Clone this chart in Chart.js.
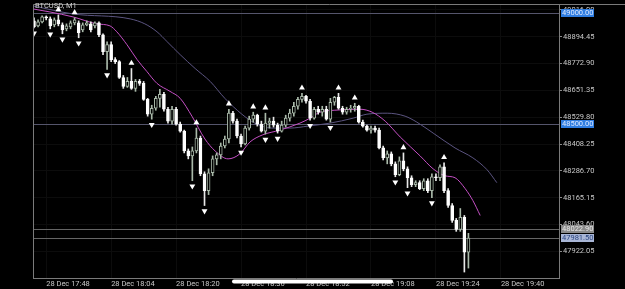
<!DOCTYPE html>
<html>
<head>
<meta charset="utf-8">
<script src="https://cdn.jsdelivr.net/npm/chart.js@4.4.1/dist/chart.umd.min.js"></script>
<style>
  html, body { margin: 0; padding: 0; background: #000; }
  canvas { display: block; }
</style>
</head>
<body>
<canvas id="chart" width="625" height="289"></canvas>
<script>
// BTCUSD M1, one bar per minute, bar 0 = 17:45
const opens = [
  48966.5, 48944, 48962, 48984.5, 48975.5, 48948.5, 48971, 48948.5, 48930.5, 48939.5,
  48957.5, 48957.5, 48926, 48948.5, 48953, 48944, 48957.5, 48903.5, 48827, 48858.5,
  48791, 48782, 48710, 48669.5, 48692, 48660.5, 48692, 48683, 48611, 48543.5,
  48570.5, 48615.5, 48633.5, 48566, 48512, 48566, 48498.5, 48467, 48377, 48354.5,
  48377, 48435.5, 48273.5, 48197, 48278, 48341, 48359, 48399.5, 48431, 48548,
  48512, 48444.5, 48408.5, 48480.5, 48521, 48539, 48498.5, 48467, 48503, 48512,
  48494, 48467, 48494, 48525.5, 48548, 48579.5, 48611, 48624.5, 48602, 48525.5,
  48566, 48552.5, 48566, 48521, 48597.5, 48620, 48570.5, 48552.5, 48566, 48570.5,
  48579.5, 48507.5, 48489.5, 48471.5, 48480.5, 48471.5, 48390.5, 48345.5, 48363.5, 48318.5,
  48269, 48332, 48296, 48255.5, 48224, 48233, 48206, 48242, 48197, 48260,
  48255.5, 48305, 48197, 48129.5, 48062, 48021.5, 48075.5, 47918
];
const highs = [
  48980, 48971, 48989, 48989, 48984.5, 48980, 48993.5, 48957.5, 48953, 48966.5,
  48980, 48966.5, 48957.5, 48966.5, 48962, 48962, 48962, 48908, 48872, 48872,
  48800, 48786.5, 48719, 48710, 48750.5, 48701, 48701, 48692, 48615.5, 48584,
  48624.5, 48656, 48642.5, 48575, 48579.5, 48575, 48507.5, 48471.5, 48386, 48395,
  48480.5, 48444.5, 48282.5, 48296, 48354.5, 48368, 48413, 48444.5, 48566, 48557,
  48521, 48453.5, 48489.5, 48534.5, 48552.5, 48543.5, 48512, 48548, 48525.5, 48530,
  48503, 48512, 48539, 48566, 48597.5, 48620, 48638, 48629, 48611, 48575,
  48579.5, 48579.5, 48579.5, 48615.5, 48624.5, 48638, 48579.5, 48575, 48584, 48593,
  48584, 48516.5, 48494, 48489.5, 48489.5, 48480.5, 48399.5, 48377, 48372.5, 48327.5,
  48350, 48368, 48305, 48264.5, 48242, 48242, 48251, 48251, 48273.5, 48273.5,
  48314, 48323, 48206, 48138.5, 48071, 48116, 48084.5, 48003.5
];
const lows = [
  48935, 48939.5, 48957.5, 48971, 48930.5, 48939.5, 48944, 48908, 48921.5, 48930.5,
  48948.5, 48890, 48917, 48944, 48917, 48935, 48894.5, 48813.5, 48746, 48782,
  48773, 48705.5, 48660.5, 48665, 48656, 48647, 48674, 48606.5, 48534.5, 48521,
  48561.5, 48575, 48557, 48503, 48498.5, 48494, 48462.5, 48368, 48341, 48242,
  48368, 48264.5, 48129.5, 48179, 48264.5, 48314, 48341, 48390.5, 48413, 48503,
  48435.5, 48395, 48404, 48471.5, 48507.5, 48489.5, 48462.5, 48453.5, 48480.5, 48485,
  48458, 48462.5, 48485, 48512, 48534.5, 48566, 48597.5, 48593, 48516.5, 48521,
  48543.5, 48534.5, 48516.5, 48507.5, 48584, 48566, 48543.5, 48543.5, 48552.5, 48557,
  48503, 48485, 48467, 48458, 48462.5, 48386, 48336.5, 48318.5, 48309.5, 48260,
  48264.5, 48287, 48210.5, 48215, 48215, 48201.5, 48197, 48188, 48165.5, 48242,
  48242, 48188, 48120.5, 48053, 48012.5, 48012.5, 47828, 47846
];
const closes = [
  48939.5, 48962, 48984.5, 48980, 48944, 48971, 48953, 48926, 48944, 48957.5,
  48971, 48912.5, 48948.5, 48957.5, 48926, 48957.5, 48903.5, 48827, 48858.5, 48791,
  48782, 48710, 48669.5, 48692, 48660.5, 48692, 48683, 48611, 48543.5, 48570.5,
  48615.5, 48633.5, 48566, 48512, 48566, 48498.5, 48467, 48377, 48354.5, 48377,
  48435.5, 48273.5, 48197, 48278, 48341, 48359, 48399.5, 48431, 48548, 48512,
  48444.5, 48408.5, 48480.5, 48521, 48539, 48498.5, 48467, 48503, 48512, 48494,
  48467, 48494, 48525.5, 48548, 48579.5, 48611, 48624.5, 48602, 48525.5, 48566,
  48552.5, 48566, 48521, 48597.5, 48620, 48570.5, 48552.5, 48566, 48570.5, 48579.5,
  48507.5, 48489.5, 48471.5, 48480.5, 48471.5, 48390.5, 48345.5, 48363.5, 48318.5, 48269,
  48332, 48296, 48255.5, 48224, 48233, 48206, 48242, 48197, 48260, 48255.5,
  48305, 48197, 48129.5, 48062, 48021.5, 48075.5, 47918, 47981.5
];

// bars that carry a fractal arrow
const fractalUpBars = [6, 10, 24, 40, 48, 54, 57, 66, 75, 79, 91, 101];
const fractalDownBars = [0, 4, 7, 11, 18, 29, 39, 42, 51, 57, 60, 68, 73, 89, 92, 98];

// moving averages (bar position, price)
const fastMaBars = [-0.2, 3.9, 9.6, 15.5, 18.7, 20.4, 22.9, 25.4, 27.8, 30.3, 33.5, 36, 38.9, 42.1, 44.6, 47.8, 50.7, 53.2, 56.2, 60.6, 65.5, 68, 70.4, 74.1, 80.3, 83.3, 86.5, 90.2, 95.1, 98.3, 101.2, 103.7, 106.2, 108.1, 109.9];
const fastMaValues = [49020.5, 49007, 48984.5, 48953, 48944, 48917, 48858.5, 48791, 48737, 48683, 48647, 48615.5, 48534.5, 48431, 48377, 48341, 48363.5, 48417.5, 48449, 48471.5, 48503, 48525.5, 48552.5, 48561.5, 48566, 48552.5, 48512, 48440, 48354.5, 48296, 48264.5, 48255.5, 48206, 48152, 48084.5];
const slowMaBars = [-0.2, 9.6, 23.7, 27.3, 30.3, 32.8, 36, 39.7, 43.4, 47, 51.2, 54.4, 58.6, 63, 67.5, 72.9, 78.6, 82, 87, 91.4, 94.3, 98.3, 103.7, 108.1, 111.6, 114];
const slowMaValues = [49034, 48998, 48975.5, 48953, 48917, 48872, 48813.5, 48750.5, 48692, 48615.5, 48543.5, 48503, 48480.5, 48480.5, 48489.5, 48503, 48525.5, 48543.5, 48548, 48534.5, 48507.5, 48458, 48390.5, 48345.5, 48291.5, 48233];

const priceTicks = [49016.00, 48894.45, 48772.90, 48651.35, 48529.80, 48408.25, 48286.70, 48165.15, 48043.60, 47922.05];
const timeTickBars = [3, 19, 35, 51, 67, 83, 99, 115];
const timeTickLabels = ['28 Dec 17:48', '28 Dec 18:04', '28 Dec 18:20', '28 Dec 18:36', '28 Dec 18:52', '28 Dec 19:08', '28 Dec 19:24', '28 Dec 19:40'];

const levelLines = [49000, 48500];
const askPrice = 48022.90;
const bidPrice = 47981.50;

const yMin = 47801, yMax = 49043;
const xMin = -0.246, xMax = 129.31;

const bullColor = '#a9b9a9';
const bearColor = '#ffffff';
const arrowGap = 5.5 * (yMax - yMin) / 276;

const bars = opens.map((_, i) => i);
const isUp = i => closes[i] >= opens[i];

const fontFamily = 'Roboto, "Liberation Sans", sans-serif';
Chart.defaults.font.family = fontFamily;

const decorations = {
  id: 'decorations',
  beforeDraw(chart) {
    const ctx = chart.ctx;
    ctx.save();
    ctx.fillStyle = '#000';
    ctx.fillRect(0, 0, chart.width, chart.height);
    ctx.restore();
  },
  beforeDatasetsDraw(chart) {
    const { ctx, chartArea: a, scales: { y } } = chart;
    ctx.save();
    ctx.lineWidth = 1;
    ctx.strokeStyle = '#55556c';
    levelLines.forEach(v => {
      const py = Math.round(y.getPixelForValue(v)) + 0.5;
      ctx.beginPath(); ctx.moveTo(a.left, py); ctx.lineTo(a.right, py); ctx.stroke();
    });
    ctx.strokeStyle = '#656565';
    [askPrice, bidPrice].forEach(v => {
      const py = Math.round(y.getPixelForValue(v)) + 0.5;
      ctx.beginPath(); ctx.moveTo(a.left, py); ctx.lineTo(a.right, py); ctx.stroke();
    });
    ctx.restore();
  },
  afterDraw(chart) {
    const { ctx, chartArea: a, scales: { y } } = chart;
    ctx.save();
    // frame
    ctx.strokeStyle = '#7a7a7a';
    ctx.lineWidth = 1;
    ctx.beginPath();
    ctx.moveTo(a.left + 0.5, a.bottom); ctx.lineTo(a.left + 0.5, a.top + 0.5); ctx.lineTo(chart.width, a.top + 0.5);
    ctx.stroke();

    ctx.font = '7.5px ' + fontFamily;
    ctx.textBaseline = 'middle';
    ctx.textAlign = 'left';
    const tag = (v, bg, fg) => {
      const py = Math.round(y.getPixelForValue(v));
      ctx.fillStyle = bg;
      ctx.fillRect(a.right + 2, py - 4, 33, 8);
      ctx.fillStyle = fg;
      ctx.fillText(v.toFixed(2), a.right + 3, py + 0.5);
    };
    levelLines.forEach(v => tag(v, '#2f7de1', '#dce8ff'));
    tag(askPrice, '#8a8a8a', '#e6e6e6');
    tag(bidPrice, '#a9b6d6', '#2c4680');

    ctx.fillStyle = '#d0d0d0';
    ctx.fillText('BTCUSD, M1', a.left + 2, 6);

    // phone home indicator
    ctx.fillStyle = '#ffffff';
    ctx.beginPath();
    ctx.roundRect(232, 279.5, 161, 4, 2);
    ctx.fill();
    ctx.restore();
  }
};

new Chart(document.getElementById('chart'), {
  type: 'bar',
  data: {
    datasets: [
      {
        label: 'body',
        data: bars.map(i => ({ x: i, y: [opens[i], closes[i]] })),
        grouped: false,
        barThickness: 3,
        minBarLength: 1,
        borderWidth: 1,
        borderSkipped: false,
        backgroundColor: c => isUp(c.dataIndex) ? '#000' : bearColor,
        borderColor: c => isUp(c.dataIndex) ? bullColor : bearColor,
        order: 0
      },
      {
        label: 'wick',
        data: bars.map(i => ({ x: i, y: [lows[i], highs[i]] })),
        grouped: false,
        barThickness: 1,
        borderWidth: 0,
        backgroundColor: c => isUp(c.dataIndex) ? bullColor : '#e8e8e8',
        order: 1
      },
      {
        type: 'line',
        label: 'fractal up',
        data: fractalUpBars.map(i => ({ x: i, y: highs[i] + arrowGap })),
        showLine: false,
        pointStyle: 'triangle',
        pointRadius: 3.4,
        pointBorderWidth: 0,
        pointBackgroundColor: '#fff',
        order: 0
      },
      {
        type: 'line',
        label: 'fractal down',
        data: fractalDownBars.map(i => ({ x: i, y: lows[i] - arrowGap })),
        showLine: false,
        pointStyle: 'triangle',
        pointRotation: 180,
        pointRadius: 3.4,
        pointBorderWidth: 0,
        pointBackgroundColor: '#fff',
        order: 0
      },
      {
        type: 'line',
        label: 'MA fast',
        data: fastMaBars.map((b, i) => ({ x: b, y: fastMaValues[i] })),
        borderColor: '#c44fc4',
        borderWidth: 1,
        pointRadius: 0,
        cubicInterpolationMode: 'monotone',
        order: 2
      },
      {
        type: 'line',
        label: 'MA slow',
        data: slowMaBars.map((b, i) => ({ x: b, y: slowMaValues[i] })),
        borderColor: '#5b5480',
        borderWidth: 1,
        pointRadius: 0,
        cubicInterpolationMode: 'monotone',
        order: 3
      }
    ]
  },
  options: {
    responsive: false,
    animation: false,
    devicePixelRatio: 1,
    layout: { padding: { left: 33, top: 2, right: 0, bottom: 0 } },
    plugins: { legend: { display: false }, tooltip: { enabled: false } },
    scales: {
      x: {
        type: 'linear',
        min: xMin,
        max: xMax,
        offset: false,
        grid: { color: '#0c0c0c', drawTicks: false, offset: false },
        border: { color: '#7a7a7a' },
        ticks: {
          align: 'start',
          autoSkip: false,
          maxRotation: 0,
          padding: 2,
          color: '#c8c8c8',
          font: { size: 7.5 },
          callback: (v, i) => timeTickLabels[i]
        },
        afterBuildTicks: s => { s.ticks = timeTickBars.map(v => ({ value: v })); },
        afterFit: s => { s.height = 11; s.paddingLeft = 0; s.paddingRight = 0; }
      },
      y: {
        type: 'linear',
        position: 'right',
        min: yMin,
        max: yMax,
        grid: { color: '#0c0c0c', tickColor: '#8a8a8a', tickLength: 3 },
        border: { color: '#7a7a7a' },
        ticks: {
          padding: 1,
          color: '#c8c8c8',
          font: { size: 7.5 },
          callback: v => v.toFixed(2)
        },
        afterBuildTicks: s => { s.ticks = priceTicks.map(v => ({ value: v })); },
        afterFit: s => { s.width = 66; s.paddingTop = 0; s.paddingBottom = 0; }
      }
    }
  },
  plugins: [decorations]
});
</script>
</body>
</html>
